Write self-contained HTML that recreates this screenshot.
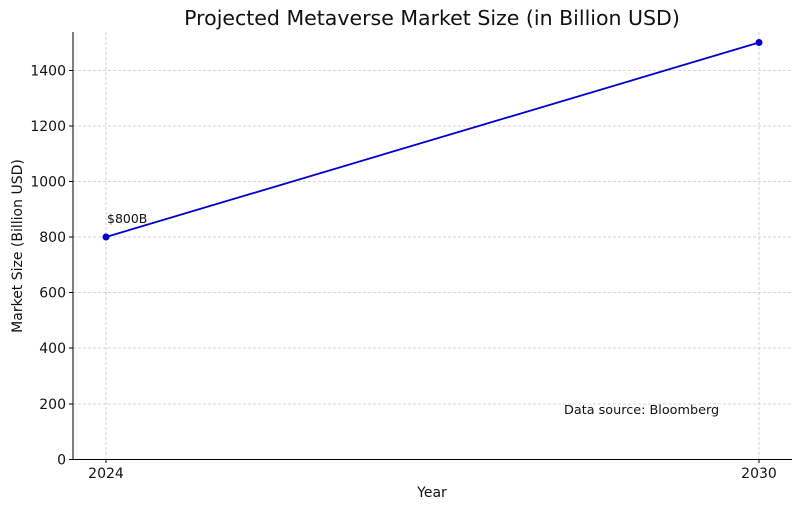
<!DOCTYPE html>
<html><head><meta charset="utf-8"><style>
html,body{margin:0;padding:0;background:#fff;}
svg text{font-family:"DejaVu Sans","Liberation Sans",sans-serif;fill:#111;}
</style></head><body>
<svg width="800" height="509" viewBox="0 0 800 509" xmlns="http://www.w3.org/2000/svg">
<rect width="800" height="509" fill="#fff"/>
<g stroke="#c8c8c8" stroke-width="0.8" stroke-dasharray="3,2">
<line x1="73" x2="792" y1="404" y2="404"/>
<line x1="73" x2="792" y1="348" y2="348"/>
<line x1="73" x2="792" y1="292.5" y2="292.5"/>
<line x1="73" x2="792" y1="237" y2="237"/>
<line x1="73" x2="792" y1="181.5" y2="181.5"/>
<line x1="73" x2="792" y1="126" y2="126"/>
<line x1="73" x2="792" y1="70.5" y2="70.5"/>
<line x1="106" x2="106" y1="32" y2="459"/>
<line x1="759" x2="759" y1="32" y2="459"/>
</g>
<g stroke="#000" stroke-width="1">
<line x1="73" x2="73" y1="32" y2="459.5"/>
<line x1="72.5" x2="792" y1="459.5" y2="459.5"/>
<line x1="106" x2="106" y1="459.5" y2="463"/>
<line x1="759" x2="759" y1="459.5" y2="463"/>
<line x1="69" x2="73" y1="459.5" y2="459.5"/>
<line x1="69" x2="73" y1="404" y2="404"/>
<line x1="69" x2="73" y1="348" y2="348"/>
<line x1="69" x2="73" y1="292.5" y2="292.5"/>
<line x1="69" x2="73" y1="237" y2="237"/>
<line x1="69" x2="73" y1="181.5" y2="181.5"/>
<line x1="69" x2="73" y1="126" y2="126"/>
<line x1="69" x2="73" y1="70.5" y2="70.5"/>
</g>
<g font-size="14" text-anchor="end">
<text x="66" y="464.5">0</text>
<text x="66" y="409">200</text>
<text x="66" y="353">400</text>
<text x="66" y="297.5">600</text>
<text x="66" y="242">800</text>
<text x="66" y="186.5">1000</text>
<text x="66" y="131">1200</text>
<text x="66" y="75.5">1400</text>
</g>
<g font-size="14" text-anchor="middle">
<text x="106" y="478">2024</text>
<text x="759" y="478">2030</text>
<text x="432" y="497">Year</text>
<text x="432" y="25" font-size="20.5">Projected Metaverse Market Size (in Billion USD)</text>
<text transform="translate(22,246) rotate(-90)">Market Size (Billion USD)</text>
</g>
<line x1="106" y1="237" x2="759" y2="42.5" stroke="#0000cc" stroke-width="1.8"/>
<circle cx="106" cy="237" r="3.5" fill="#0000cc"/>
<circle cx="759" cy="42.5" r="3.5" fill="#0000cc"/>
<text x="107" y="223" font-size="12.5">$800B</text>
<text x="564" y="414" font-size="12.8">Data source: Bloomberg</text>
</svg>
</body></html>
